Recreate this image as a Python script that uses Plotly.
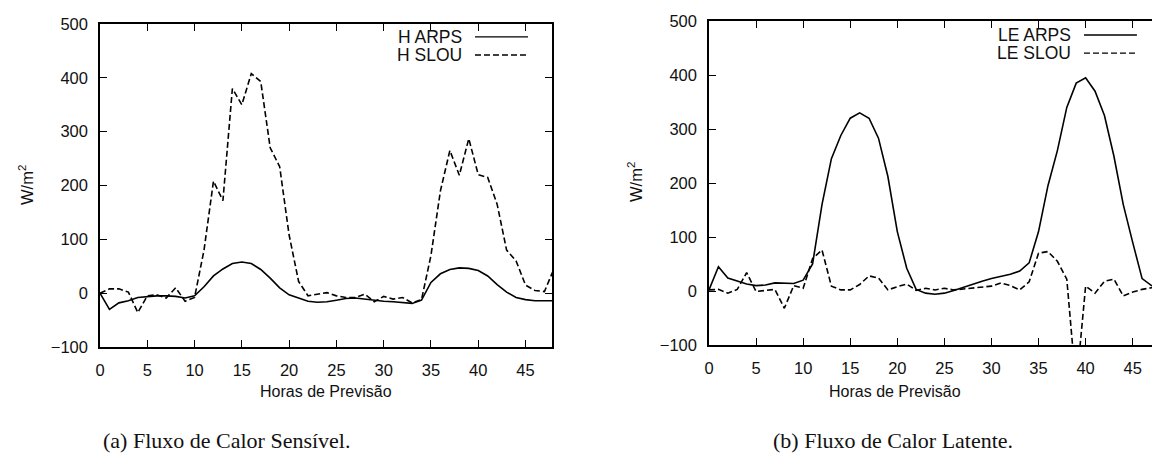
import plotly.graph_objects as go

hours = list(range(49))

h_arps = [0, -30, -18, -14, -8, -6, -5, -5, -6, -9, -5, 12, 32, 45, 55, 58, 55, 44, 28, 10,
          -3, -9, -15, -17, -16, -13, -10, -9, -11, -14, -15, -16, -17, -19, -13, 20, 36, 44, 47, 46,
          42, 32, 16, 2, -8, -12, -14, -14, -14]
h_slou = [0, 8, 8, 2, -36, -5, -3, -9, 10, -15, -8, 80, 208, 172, 380, 350, 408, 393, 270, 235,
          108, 22, -5, -2, 1, -5, -8, -8, -2, -16, -6, -11, -8, -18, -12, 70, 190, 265, 219, 287,
          220, 215, 165, 80, 60, 15, 5, 3, 45]
le_arps = [2, 45, 24, 18, 13, 10, 11, 15, 15, 14, 20, 50, 160, 245, 288, 320, 330, 320, 283, 212,
           110, 42, 3, -4, -6, -4, 1, 7, 13, 18, 23, 27, 31, 37, 52, 110, 195, 260, 340, 385,
           395, 370, 325, 250, 160, 90, 23, 10, 5]
le_slou = [2, 3, -4, 3, 34, -1, 1, 3, -32, 10, 5, 60, 76, 9, 2, 2, 12, 28, 24, 2,
           8, 13, 1, 5, 2, 5, 2, 4, 5, 7, 9, 15, 10, 2, 17, 70, 73, 55, 22, -178,
           9, -4, 18, 22, -9, -2, 3, 6, 8]

x_ticks = [0, 5, 10, 15, 20, 25, 30, 35, 40, 45]
y_ticks = [-100, 0, 100, 200, 300, 400, 500]
legend_left = ["H ARPS", "H SLOU"]
legend_right = ["LE ARPS", "LE SLOU"]
x_title = "Horas de Previsão"
y_title = "W/m<sup>2</sup>"
captions = ["(a) Fluxo de Calor Sensível.", "(b) Fluxo de Calor Latente."]

W, H = 1152, 472
FONT = "Liberation Sans, Arial, sans-serif"
DASH = "6px,3px"

fig = go.Figure()
fig.add_trace(go.Scatter(x=hours, y=h_arps, mode="lines", line=dict(color="black", width=1.6),
                         xaxis="x", yaxis="y", showlegend=False))
fig.add_trace(go.Scatter(x=hours, y=h_slou, mode="lines", line=dict(color="black", width=1.6, dash=DASH),
                         xaxis="x", yaxis="y", showlegend=False))
fig.add_trace(go.Scatter(x=hours, y=le_arps, mode="lines", line=dict(color="black", width=1.6),
                         xaxis="x2", yaxis="y2", showlegend=False))
fig.add_trace(go.Scatter(x=hours, y=le_slou, mode="lines", line=dict(color="black", width=1.6, dash=DASH),
                         xaxis="x2", yaxis="y2", showlegend=False))

def px_x(p):
    return p / W

def px_y(p):
    return 1 - p / H

axis_common = dict(showline=True, linecolor="black", linewidth=1.5, ticks="inside", ticklen=7,
                   tickwidth=1.2, tickcolor="black", showgrid=False, zeroline=False,
                   tickfont=dict(family=FONT, size=16.5, color="#111"), automargin=False,
                   ticklabelstandoff=7)

L = dict(x0=100, x1=552, y0=24, y1=347)
R = dict(x0=709, x1=1152, y0=21, y1=345)

fig.update_layout(
    width=W, height=H, margin=dict(l=0, r=0, t=0, b=0),
    paper_bgcolor="white", plot_bgcolor="white", showlegend=False,
    xaxis=dict(domain=[px_x(L["x0"]), px_x(L["x1"])], range=[0, 47.8], tickvals=x_ticks,
               mirror="ticks", anchor="y", **axis_common),
    yaxis=dict(domain=[px_y(L["y1"]), px_y(L["y0"])], range=[-100, 500], tickvals=y_ticks,
               mirror="ticks", anchor="x", **axis_common),
    xaxis2=dict(domain=[px_x(R["x0"]), px_x(R["x1"])], range=[0, 47.05], tickvals=x_ticks,
                mirror="ticks", anchor="y2", **axis_common),
    yaxis2=dict(domain=[px_y(R["y1"]), px_y(R["y0"])], range=[-100, 500], tickvals=y_ticks,
                mirror=False, anchor="x2", **axis_common),
)

annotations = []
shapes = []

def add_legend(xref, yref, names, text_x, line_x0, line_x1, ys):
    for name, yy, dash in zip(names, ys, ["solid", DASH]):
        annotations.append(dict(text=name, xref=xref, yref=yref, x=text_x, y=yy, xanchor="right",
                                yanchor="middle", showarrow=False,
                                font=dict(family=FONT, size=17.5, color="#111")))
        shapes.append(dict(type="line", xref=xref, yref=yref, x0=line_x0, x1=line_x1, y0=yy, y1=yy,
                           line=dict(color="black", width=1.4, dash=dash)))

add_legend("x domain", "y domain", legend_left, 0.806, 0.8296, 0.947, [0.96, 0.904])
add_legend("x2 domain", "y2 domain", legend_right, 0.821, 0.8465, 0.966, [0.957, 0.901])

def ann(text, x, y, size=16, family=FONT, angle=0):
    annotations.append(dict(text=text, xref="paper", yref="paper", x=px_x(x), y=px_y(y),
                            textangle=angle, showarrow=False, xanchor="center", yanchor="middle",
                            font=dict(family=family, size=size, color="#111")))

ann(y_title, 26, 185, size=16.5, angle=-90)
ann(y_title, 635, 182, size=16.5, angle=-90)
ann(x_title, 326, 391, size=16)
ann(x_title, 895, 391, size=16)
ann(captions[0], 226, 440, size=22, family="Liberation Serif, serif")
ann(captions[1], 893, 440, size=22, family="Liberation Serif, serif")

fig.update_layout(annotations=annotations, shapes=shapes)
fig.write_html("out.html")
